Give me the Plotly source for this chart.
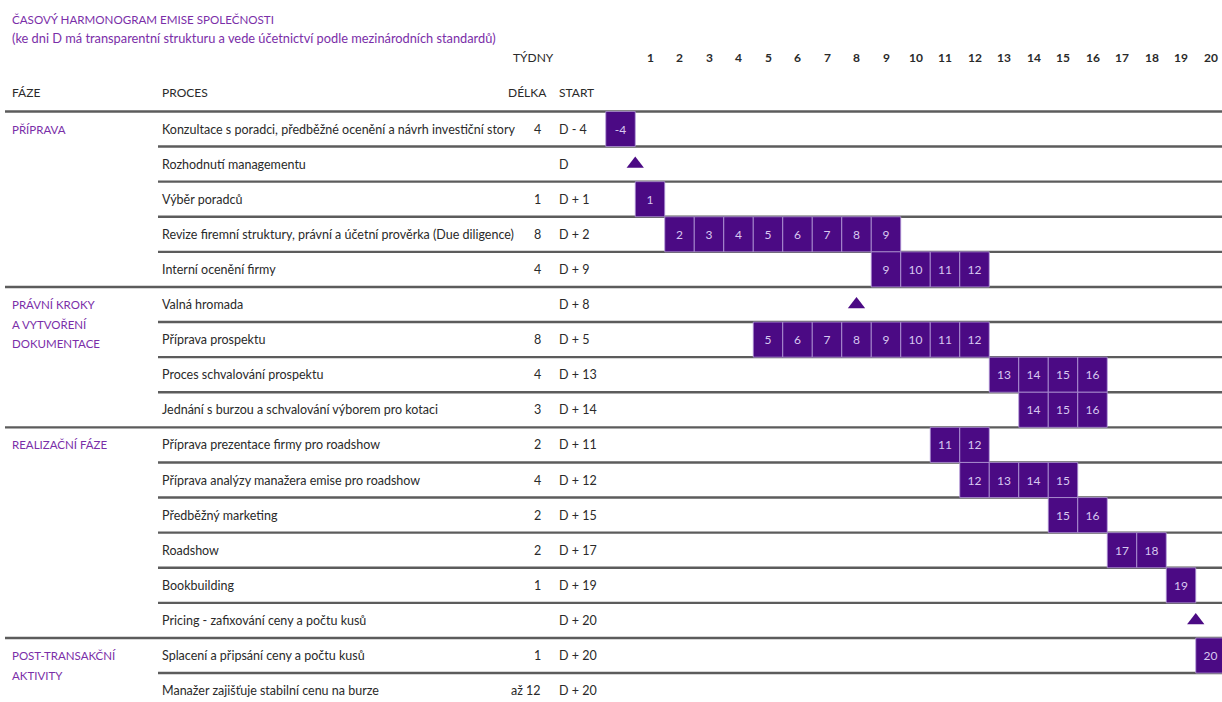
import plotly.graph_objects as go

# ---------------- data ----------------
title_lines = ["ČASOVÝ HARMONOGRAM EMISE SPOLEČNOSTI",
               "(ke dni D má transparentní strukturu a vede účetnictví podle mezinárodních standardů)"]
weeks = list(range(1, 21))
phases = ["PŘÍPRAVA", "PRÁVNÍ KROKY<br>A VYTVOŘENÍ<br>DOKUMENTACE", "REALIZAČNÍ FÁZE", "POST-TRANSAKČNÍ<br>AKTIVITY"]
phase_first_row = [0, 5, 9, 15]
processes = [
    "Konzultace s poradci, předběžné ocenění a návrh investiční story",
    "Rozhodnutí managementu",
    "Výběr poradců",
    "Revize firemní struktury, právní a účetní prověrka (Due diligence)",
    "Interní ocenění firmy",
    "Valná hromada",
    "Příprava prospektu",
    "Proces schvalování prospektu",
    "Jednání s burzou a schvalování výborem pro kotaci",
    "Příprava prezentace firmy pro roadshow",
    "Příprava analýzy manažera emise pro roadshow",
    "Předběžný marketing",
    "Roadshow",
    "Bookbuilding",
    "Pricing - zafixování ceny a počtu kusů",
    "Splacení a připsání ceny a počtu kusů",
    "Manažer zajišťuje stabilní cenu na burze",
]
delka = ["4", "", "1", "8", "4", "", "8", "4", "3", "2", "4", "2", "2", "1", "", "1", "až 12"]
start = ["D - 4", "D", "D + 1", "D + 2", "D + 9", "D + 8", "D + 5", "D + 13", "D + 14",
         "D + 11", "D + 12", "D + 15", "D + 17", "D + 19", "D + 20", "D + 20", "D + 20"]
# week cells: row index, week column, label
cell_rows = [0, 2, 3, 3, 3, 3, 3, 3, 3, 3, 4, 4, 4, 4,
             6, 6, 6, 6, 6, 6, 6, 6, 7, 7, 7, 7, 8, 8, 8,
             9, 9, 10, 10, 10, 10, 11, 11, 12, 12, 13, 15]
cell_weeks = [0, 1, 2, 3, 4, 5, 6, 7, 8, 9, 9, 10, 11, 12,
              5, 6, 7, 8, 9, 10, 11, 12, 13, 14, 15, 16, 14, 15, 16,
              11, 12, 12, 13, 14, 15, 15, 16, 17, 18, 19, 20]
cell_labels = ["-4"] + [str(w) for w in cell_weeks[1:]]
milestone_rows = [1, 5, 14]
milestone_weeks = [0.5, 8, 19.5]

# ---------------- geometry ----------------
W, H = 1222, 702
X0_PX, DX = 650.0, 29.5      # pixel of week 1 centre, pixels per week
Y0_PX, DY = 129.0, 35.1      # pixel of row 0 centre, pixels per row
x_range = [1 - X0_PX / DX, 1 + (W - X0_PX) / DX]
y_range = [(H - Y0_PX) / DY, -Y0_PX / DY]

def px(x):
    return x / W

def py(y):
    return 1 - y / H

PURPLE = "#4b0a84"
TITLE_PURPLE = "#7a2ea8"
TEXT = "#2a2a2a"
FONT = "Lato, Open Sans, sans-serif"

fig = go.Figure()

fig.add_trace(go.Bar(
    orientation="h",
    y=cell_rows,
    x=[1] * len(cell_rows),
    base=[w - 0.5 for w in cell_weeks],
    width=1.0,
    text=cell_labels,
    textposition="inside",
    insidetextanchor="middle",
    textangle=0,
    constraintext="none",
    textfont=dict(color="#d8c8f0", size=12, family=FONT),
    marker=dict(color=PURPLE, line=dict(color="#b49ad8", width=0.8)),
    hoverinfo="skip",
    showlegend=False,
))

fig.add_trace(go.Scatter(
    x=milestone_weeks, y=milestone_rows, mode="markers",
    marker=dict(symbol="triangle-up", size=15, color=PURPLE),
    hoverinfo="skip", showlegend=False,
))

# separators
shapes = []
phase_bounds = [r - 0.5 for r in phase_first_row]
for i in range(-1, len(processes) - 1):
    b = i + 0.5
    x_start = 5 if b in phase_bounds else 158
    shapes.append(dict(type="line", xref="paper", yref="y", x0=px(x_start), x1=1,
                       y0=b, y1=b, layer="below",
                       line=dict(color="#5c5c5c", width=2.4)))

ann = []
title_sizes = [11.6, 12.8]
for i, t in enumerate(title_lines):
    ann.append(dict(x=px(10), y=py(20 + 18 * i), xref="paper", yref="paper", text=t,
                    showarrow=False, xanchor="left", yanchor="middle",
                    font=dict(color=TITLE_PURPLE, size=title_sizes[i], family=FONT)))
hdr = dict(showarrow=False, xref="paper", yref="paper", yanchor="middle",
           font=dict(color=TEXT, size=12, family=FONT))
ann.append(dict(hdr, x=px(533), y=py(57), text="TÝDNY", xanchor="center"))
ann.append(dict(hdr, x=px(10), y=py(93), text="FÁZE", xanchor="left"))
ann.append(dict(hdr, x=px(160), y=py(93), text="PROCES", xanchor="left"))
ann.append(dict(hdr, x=px(549), y=py(93), text="DÉLKA", xanchor="right"))
ann.append(dict(hdr, x=px(557), y=py(93), text="START", xanchor="left"))
for w in weeks:
    ann.append(dict(x=w, y=py(57), xref="x", yref="paper", text="<b>%d</b>" % w, showarrow=False,
                    xanchor="center", yanchor="middle",
                    font=dict(color=TEXT, size=12, family=FONT)))
LINE_STEP = 19.5 / DY
for name, r in zip(phases, phase_first_row):
    for k, part in enumerate(name.split("<br>")):
        ann.append(dict(x=px(10), y=r + k * LINE_STEP, xref="paper", yref="y", text=part,
                        showarrow=False, xanchor="left", yanchor="middle", align="left",
                        font=dict(color=TITLE_PURPLE, size=11.5, family=FONT)))
for i, (p, d, s) in enumerate(zip(processes, delka, start)):
    ann.append(dict(x=px(160), y=i, xref="paper", yref="y", text=p, showarrow=False,
                    xanchor="left", yanchor="middle", font=dict(color=TEXT, size=12.5, family=FONT)))
    if d:
        ann.append(dict(x=px(543), y=i, xref="paper", yref="y", text=d, showarrow=False,
                        xanchor="right", yanchor="middle", font=dict(color=TEXT, size=12.5, family=FONT)))
    ann.append(dict(x=px(557), y=i, xref="paper", yref="y", text=s, showarrow=False,
                    xanchor="left", yanchor="middle", font=dict(color=TEXT, size=12.5, family=FONT)))

fig.update_layout(
    width=W, height=H, margin=dict(l=0, r=0, t=0, b=0),
    paper_bgcolor="white", plot_bgcolor="white",
    barmode="overlay",
    xaxis=dict(range=x_range, visible=False, fixedrange=True),
    yaxis=dict(range=y_range, visible=False, fixedrange=True),
    shapes=shapes, annotations=ann,
    font=dict(family=FONT),
)

fig.write_html("out.html",
               config={"displayModeBar": False},
               post_script="document.body.style.margin='0';document.body.style.overflow='hidden';")
